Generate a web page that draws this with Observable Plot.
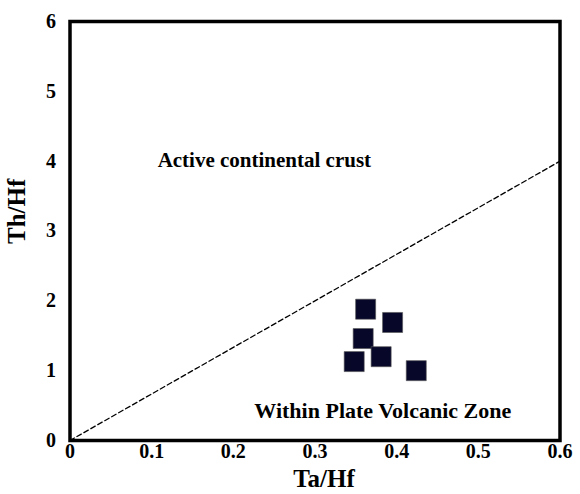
<!DOCTYPE html>
<html><head><meta charset="utf-8">
<script src="https://cdn.jsdelivr.net/npm/d3@7"></script>
<script src="https://cdn.jsdelivr.net/npm/@observablehq/plot@0.6"></script>
<style>body{margin:0;background:#fff}</style>
</head><body><div id="chart"></div>
<script>
const taHf = [0.362, 0.395, 0.359, 0.348, 0.381, 0.424];
const thHf = [1.88, 1.69, 1.46, 1.13, 1.20, 1.00];
const boundaryX = [0, 0.6];
const boundaryY = [0, 4];
const xTicks = [0, 0.1, 0.2, 0.3, 0.4, 0.5, 0.6];
const yTicks = [0, 1, 2, 3, 4, 5, 6];
const regionLabels = ["Active continental crust", "Within Plate Volcanic Zone"];
const regionX = [0.238, 0.383];
const regionY = [4.01, 0.43];

const samples = taHf.map((x, i) => ({x, y: thHf[i]}));
const boundary = boundaryX.map((x, i) => ({x, y: boundaryY[i]}));
const regions = regionLabels.map((t, i) => ({t, x: regionX[i], y: regionY[i]}));

const chart = Plot.plot({
  width: 580, height: 494,
  marginLeft: 69.5, marginRight: 20.5, marginTop: 21, marginBottom: 54,
  style: {fontFamily: "Liberation Serif", background: "#fff", color: "#000"},
  x: {domain: [0, 0.6]},
  y: {domain: [0, 6]},
  marks: [
    Plot.axisX(xTicks, {tickSize: 0, tickPadding: 3, fontSize: 20, fontWeight: "bold", letterSpacing: "1px", label: null, tickFormat: d => String(d)}),
    Plot.axisY(yTicks, {tickSize: 0, tickPadding: 14, fontSize: 20, fontWeight: "bold", label: null, tickFormat: d => String(d)}),
    Plot.line(boundary, {x: "x", y: "y", stroke: "#000", strokeWidth: 1.3, strokeDasharray: "5,3"}),
    Plot.dot(samples, {x: "x", y: "y", symbol: "square", r: 11.3, fill: "#07072a", stroke: "#555", strokeWidth: 0.6}),
    Plot.text(regions.slice(0, 1), {x: "x", y: "y", text: "t", fontSize: 21, fontWeight: "bold", letterSpacing: "0.75px", fill: "#000"}),
    Plot.text(regions.slice(1), {x: "x", y: "y", text: "t", fontSize: 22, fontWeight: "bold", letterSpacing: "2.2px", fill: "#000"}),
    Plot.text(["Ta/Hf"], {frameAnchor: "bottom", dx: 9, dy: 46, fontSize: 25, fontWeight: "bold", letterSpacing: "1px", text: d => d}),
    Plot.text(["Th/Hf"], {frameAnchor: "left", dx: -53, dy: 13, rotate: -90, fontSize: 25, fontWeight: "bold", letterSpacing: "1px", text: d => d}),
    Plot.frame({stroke: "#000", strokeWidth: 3.5})
  ]
});
document.getElementById("chart").append(chart);
</script>
</body></html>
